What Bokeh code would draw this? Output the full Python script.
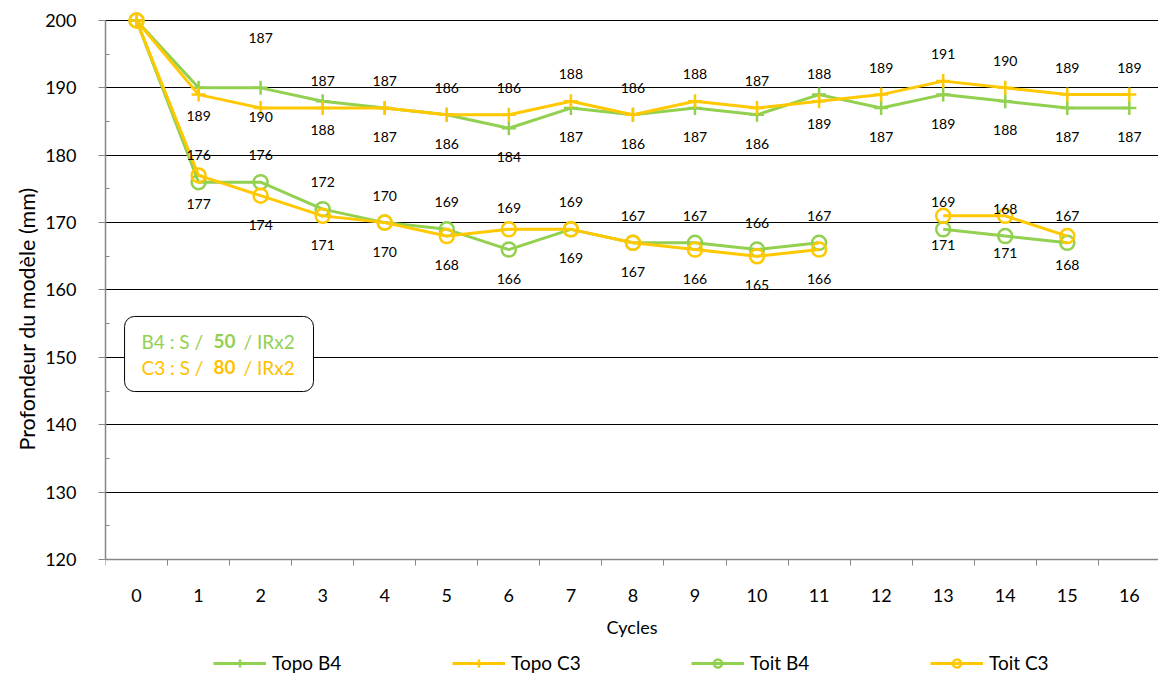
import math
from bokeh.plotting import figure
from bokeh.models import (Range1d, FixedTicker, Legend, LegendItem, BoxAnnotation,
                          Label, ColumnDataSource, Title)
from bokeh.core.properties import value
from bokeh.embed import file_html
from bokeh.resources import INLINE

nan = float("nan")

# ---------------- data ----------------
cycles = list(range(17))
topo_b4 = [200, 190, 190, 188, 187, 186, 184, 187, 186, 187, 186, 189, 187, 189, 188, 187, 187]
topo_c3 = [200, 189, 187, 187, 187, 186, 186, 188, 186, 188, 187, 188, 189, 191, 190, 189, 189]
toit_b4 = [200, 176, 176, 172, 170, 169, 166, 169, 167, 167, 166, 167, nan, 169, 168, 167, nan]
toit_c3 = [200, 177, 174, 171, 170, 168, 169, 169, 167, 166, 165, 166, nan, 171, 171, 168, nan]

# data labels as displayed (upper / lower)
topo_upper_labels = [None, None, 187, 187, 187, 186, 186, 188, 186, 188, 187, 188, 189, 191, 190, 189, 189]
topo_lower_labels = [None, 189, 190, 188, 187, 186, 184, 187, 186, 187, 186, 189, 187, 189, 188, 187, 187]
toit_upper_labels = [None, 176, 176, 172, 170, 169, 169, 169, 167, 167, 166, 167, None, 169, 168, 167, None]
toit_lower_labels = [None, 177, 174, 171, 170, 168, 166, 169, 167, 166, 165, 166, None, 171, 171, 168, None]

y_ticks = [120, 130, 140, 150, 160, 170, 180, 190, 200]
series_names = ["Topo B4", "Topo C3", "Toit B4", "Toit C3"]
note_lines = [("B4 : S /", "50", "/ IRx2"), ("C3 : S /", "80", "/ IRx2")]

# ---------------- style ----------------
GREEN = "#92D050"
YELLOW = "#FFC800"
FONT = "Lato"
AX_GREY = "#868686"
Y_MIN, Y_MAX = y_ticks[0], y_ticks[-1]

# frame runs to the bottom of the figure; the x axis sits at y = 120
p = figure(width=1158, height=674, output_backend="svg", toolbar_location=None,
           x_range=Range1d(-0.5, 16.47), y_range=Range1d(102.93, 201.63),
           min_border_left=105, min_border_right=0, min_border_top=9, min_border_bottom=0)
p.outline_line_color = None
p.background_fill_color = "white"
p.border_fill_color = "white"

# axes
p.xaxis.fixed_location = Y_MIN
p.xaxis.ticker = FixedTicker(ticks=cycles, minor_ticks=[c - 0.5 for c in range(18)])
p.xaxis.major_tick_out = 0
p.xaxis.major_tick_in = 0
p.xaxis.minor_tick_out = 6
p.xaxis.minor_tick_in = 0
p.xaxis.minor_tick_line_color = AX_GREY
p.xaxis.axis_line_color = AX_GREY
p.xaxis.axis_line_width = 1.5
p.xaxis.major_label_standoff = 24
p.xaxis.axis_label = "Cycles"
p.xaxis.axis_label_standoff = 10

p.yaxis.ticker = FixedTicker(ticks=y_ticks, minor_ticks=[t + 5 for t in y_ticks[:-1]])
p.yaxis.bounds = (Y_MIN, Y_MAX)
p.yaxis.major_tick_out = 7
p.yaxis.major_tick_in = 0
p.yaxis.minor_tick_in = 4
p.yaxis.minor_tick_out = 0
p.yaxis.major_tick_line_color = AX_GREY
p.yaxis.minor_tick_line_color = AX_GREY
p.yaxis.axis_line_color = AX_GREY
p.yaxis.axis_line_width = 1.5
p.yaxis.major_label_standoff = 22

for ax in (p.xaxis, p.yaxis):
    ax.major_label_text_font = FONT
    ax.major_label_text_font_size = "18px"
    ax.major_label_text_color = "black"
    ax.axis_label_text_font = FONT
    ax.axis_label_text_font_size = "18px"
    ax.axis_label_text_font_style = "normal"
    ax.axis_label_text_color = "black"

ytitle = Title(text="Profondeur du modèle (mm)", align="left", offset=224,
               text_font=FONT, text_font_size="21.5px", text_font_style="normal",
               text_color="black", standoff=6)
p.add_layout(ytitle, "left")

p.xgrid.grid_line_color = None
p.ygrid.ticker = FixedTicker(ticks=y_ticks)
p.ygrid.grid_line_color = "black"
p.ygrid.grid_line_width = 1

# series
src = ColumnDataSource(dict(x=cycles, tb4=topo_b4, tc3=topo_c3, ob4=toit_b4, oc3=toit_c3))
specs = [("tb4", GREEN, "cross"), ("tc3", YELLOW, "cross"),
         ("ob4", GREEN, "circle"), ("oc3", YELLOW, "circle")]
items = []
for name, (col, color, marker) in zip(series_names, specs):
    lr = p.line("x", col, source=src, line_color=color, line_width=3)
    if marker == "cross":
        sr = p.scatter("x", col, source=src, marker="cross", size=14,
                       line_color=color, line_width=2.5)
    else:
        sr = p.scatter("x", col, source=src, marker="circle", size=14,
                       fill_color=None, line_color=color, line_width=2.5)
    items.append(LegendItem(label=name, renderers=[lr, sr]))

legend = Legend(items=items, orientation="horizontal", location=(108, 0),
                glyph_width=53, glyph_height=20, label_standoff=6, label_width=170,
                spacing=10, padding=0, margin=0, border_line_color=None,
                background_fill_alpha=0, label_text_font=FONT,
                label_text_font_size="19px", label_text_color="black")
p.add_layout(legend, "center")

# data labels
nudges = {("tu", 2): -43, ("tl", 1): -8, ("ou", 6): 6, ("ol", 14): 8}
lab = dict(x=[], y=[], t=[], off=[])
for key, labels, base in (("tu", topo_upper_labels, -27), ("tl", topo_lower_labels, 29),
                          ("ou", toit_upper_labels, -27), ("ol", toit_lower_labels, 29)):
    for c, v in zip(cycles, labels):
        if v is None:
            continue
        lab["x"].append(c)
        lab["y"].append(v)
        lab["t"].append(str(v))
        lab["off"].append(base + nudges.get((key, c), 0))
p.text("x", "y", text="t", y_offset="off", source=ColumnDataSource(lab),
       text_align="center", text_baseline="middle", text_font=value(FONT),
       text_font_size="14px", text_color="black")

# inset note box
box = BoxAnnotation(left=-0.193, right=2.852, top=156.07, bottom=144.93,
                    fill_color="white", fill_alpha=1, line_color="black", line_alpha=1,
                    line_width=1, border_radius=10)
p.add_layout(box)
line_y = [152.36, 148.5]
seg_x = [0.08, 1.24, 1.724]
for (a, b, c), yy, col in zip(note_lines, line_y, [GREEN, "#FFC000"]):
    for txt, xx, style in zip((a, b, c), seg_x, ("normal", "bold", "normal")):
        p.add_layout(Label(x=xx, y=yy, text=txt, text_font=FONT, text_font_size="19px",
                           text_font_style=style, text_color=col,
                           text_align="left", text_baseline="middle"))

open("out.html", "w").write(file_html(p, INLINE))
